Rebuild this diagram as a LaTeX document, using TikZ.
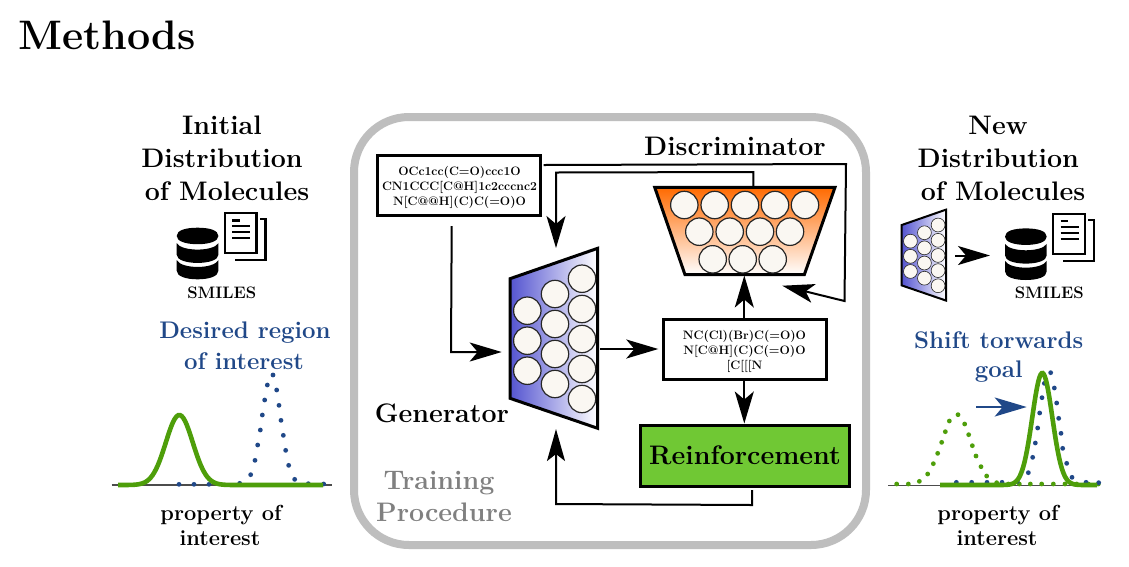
\documentclass[tikz,border=0pt]{standalone}
\usetikzlibrary{arrows.meta,shadings}
\definecolor{navy}{RGB}{32,72,136}
\definecolor{leaf}{RGB}{78,158,10}
\definecolor{reinf}{RGB}{112,200,52}
\definecolor{frame}{RGB}{190,190,190}
\definecolor{cellfill}{RGB}{250,247,242}
\definecolor{genblue}{RGB}{84,84,208}
\definecolor{discorange}{RGB}{255,106,0}
\newcommand{\fsz}[1]{\fontsize{#1}{#1}\selectfont\bfseries}
\tikzset{
 x=1pt,y=-1pt,
 big/.style={anchor=base,inner sep=0pt,font=\fsz{26.8}},
 sub/.style={anchor=base,inner sep=0pt,font=\fsz{21.8}},
 goal/.style={anchor=base,inner sep=0pt,text=navy,font=\fsz{24}},
 tiny/.style={anchor=base,inner sep=0pt,font=\fsz{16.6}},
 code/.style={anchor=base,inner sep=0pt,font=\fsz{12.2}},
 boxed/.style={draw=black,line width=3pt},
 conn/.style={draw=black,line width=2pt},
 head/.style={-{Stealth[length=32pt,width=19pt,inset=8pt]}},
 axisline/.style={draw=black!70,line width=1.1pt},
 curve/.style={draw=leaf,line width=4.6pt},
 cell/.style={draw=black!85,fill=cellfill},
}
\newcommand{\gencells}{%
 \foreach \cx/\cy in {527.3/310.7,527.3/340.7,527.3/370.7,555/294,555/324,555/354,555/384,582/278.7,582/309,582/339,582/369,582/399}
  {\path[cell] (\cx,\cy) circle[radius=13.7];}}
\newcommand{\genbody}{%
 \path[left color=genblue,right color=white,draw=black] (510,278.7) -- (597.7,248.3) -- (597.7,428.3) -- (510,398.3) -- cycle;}
\newcommand{\dbicon}{%
 \fill[black] (0,8.3) .. controls (0,2.5) and (9,0) .. (20.85,0) .. controls (32.7,0) and (41.7,2.5) .. (41.7,8.3) .. controls (41.7,13.5) and (32.7,16.5) .. (20.85,16.5) .. controls (9,16.5) and (0,13.5) .. (0,8.3) -- cycle;
 \fill[black] (0,15.5) .. controls (5,24) and (36.7,24) .. (41.7,15.5) -- (41.7,27) .. controls (41.7,32) and (32.7,35.2) .. (20.85,35.2) .. controls (9,35.2) and (0,32) .. (0,27) -- cycle;
 \fill[black] (0,32.5) .. controls (5,41.5) and (36.7,41.5) .. (41.7,32.5) -- (41.7,43) .. controls (41.7,48.5) and (32.7,51.6) .. (20.85,51.6) .. controls (9,51.6) and (0,48.5) .. (0,43) -- cycle;
 \draw[black,line width=2.3pt] (48.3,-14.4) rectangle (79.7,25.6);
 \draw[black,line width=2.3pt] (83.3,-8.4) -- (88.8,-8.4) -- (88.8,32.3) -- (58,32.3);
 \draw[black,line width=2.3pt] (55.5,-7.3) -- (63,-7.3) (55.5,-1.5) -- (73.5,-1.5) (55.5,4.5) -- (73.5,4.5) (55.5,10.5) -- (73.5,10.5);}
% dotted curves, positions in thirds of a pixel from an origin
\newcommand{\dotrow}[4]{%
 \foreach \a/\b in {#4} {\fill[#1] ({#2+\a/3},{#3+\b/3}) circle[radius=2.4];}}
\begin{document}
\begin{tikzpicture}
\useasboundingbox (0,0) rectangle (1129,566);
\fill[white] (0,0) rectangle (1129,566);
\node[anchor=base west,inner sep=0pt,font=\fsz{41.2}] (title) at (18,49) {Methods};
% frame
\draw[frame,line width=8pt,rounded corners=55pt] (354,117) rectangle (866,545);
% left column
\node[big] (l1) at (222,134) {Initial};
\node[big] (l2) at (222,167.5) {Distribution};
\node[big] (l3) at (227,200) {of Molecules};
\begin{scope}[shift={(176.7,227.7)}]\dbicon\end{scope}
\node[tiny] (lsm) at (221.7,298.5) {SMILES};
\node[goal] (lg1) at (245,338) {Desired region};
\node[goal] (lg2) at (244,369) {of interest};
\draw[axisline] (111.7,485) -- (331.7,485);
\dotrow{navy}{100}{310}{237/523,282/523,327/523,419/520,452/494,465/451,473/405,481/360,487/315,494/270,502/225,519/195,530/240,537/286,543/331,550/376,557/421,566/466,584/508,625/521,671/522}
\draw[curve] plot[domain=118:323,samples=120,smooth] (\x,{485-70*exp(-0.5*pow((\x-179.3)/13.5,2))});
\node[sub] (lp1) at (221,520) {property of};
\node[sub] (lp2) at (220,545) {interest};
% right column
\node[big] (r1) at (998,134) {New};
\node[big] (r2) at (998.3,167.5) {Distribution};
\node[big] (r3) at (1003,200) {of Molecules};
\begin{scope}[shift={(901.7,225)},scale=.505,shift={(-510,-278.7)}]
 \begin{scope}[line width=2pt]\genbody\end{scope}
 \begin{scope}[line width=.6pt]\gencells\end{scope}
\end{scope}
\coordinate (sa) at (955,255.5);
\coordinate (sb) at (990,255.5);
\draw[conn,head] (sa) -- (sb);
\begin{scope}[shift={(1005,228.4)}]\dbicon\end{scope}
\node[tiny] (rsm) at (1049.3,298) {SMILES};
\node[goal] (rg1) at (998.7,348.3) {Shift torwards};
\node[goal] (rg2) at (998.7,377.7) {goal};
\draw[axisline] (888,485.7) -- (1100,485.7);
\dotrow{leaf}{880}{320}{50/492,85/492,118/484,143/462,160/431,173/400,185/367,196/335,208/303,234/284,254/312,266/344,277/377,288/408,303/440,320/468,350/488,385/492,418/492,451/492,485/492,520/492,555/492,590/492,625/492,655/492}
\dotrow{navy}{880}{320}{229/487,275/487,321/487,366/487,412/484,445/458,458/412,466/369,473/324,479/279,486/233,493/190,512/158,523/204,530/249,536/295,543/340,548/385,560/430,576/472,618/487,656/488}
\draw[curve] plot[domain=940:1097,samples=160,smooth] (\x,{485-112*exp(-0.5*pow((\x-1042.3)/10,2))});
\coordinate (ga) at (976,407);
\coordinate (gb) at (1026.7,407);
\draw[navy,line width=2pt,-{Stealth[length=32pt,width=19pt,inset=8pt]}] (ga) -- (gb);
\node[sub] (rp1) at (998,520) {property of};
\node[sub] (rp2) at (997,545) {interest};
% generator
\coordinate (gtop) at (556,248);
\coordinate (gleft) at (501.7,352);
\coordinate (gright) at (600,349);
\coordinate (gbot) at (556,429);
\begin{scope}[line width=3pt]\genbody\end{scope}
\begin{scope}[line width=1.2pt]\gencells\end{scope}
\node[big] (gen) at (442,422) {Generator};
% discriminator
\path[top color=discorange,bottom color=white,draw=black,line width=3pt] (654.7,187.3) -- (835,187.3) -- (804.3,274.7) -- (685,274.7) -- cycle;
\coordinate (dtop) at (753.3,186.5);
\coordinate (dbot) at (744.3,275.5);
\coordinate (dside) at (782.3,285.7);
\foreach \cx/\cy in {684.3/205,714.7/205,745/205,775/205,805/205,699.3/231.7,729.7/231.7,760/231.7,790/231.7,712.7/259.3,742.7/259.3,772.7/259.3}
 {\path[cell,line width=1.2pt] (\cx,\cy) circle[radius=13.7];}
\node[big] (disc) at (735,155) {Discriminator};
% input box
\node[boxed,minimum width=163pt,minimum height=60pt,inner sep=0pt] (inbox) at (459.2,185.8) {};
\node[code] (i1) at (459.5,175) {OCc1cc(C=O)ccc1O};
\node[code] (i2) at (459.5,190) {CN1CCC[C@H]1c2cccnc2};
\node[code] (i3) at (459.5,205) {N[C@@H](C)C(=O)O};
% output box
\node[boxed,minimum width=163pt,minimum height=60pt,inner sep=0pt] (outbox) at (744.7,349.7) {};
\node[code] (o1) at (744.5,339.5) {NC(Cl)(Br)C(=O)O};
\node[code] (o2) at (744.5,354.5) {N[C@H](C)C(=O)O};
\node[code] (o3) at (744.5,369.5) {[C[[[N};
% reinforcement
\node[boxed,fill=reinf,minimum width=209pt,minimum height=61pt,inner sep=0pt,font=\fsz{26.8}] (reinf) at (745,455.5) {Reinforcement};
% training
\node[big,text=black!50] (t1) at (439,489.5) {Training};
\node[big,text=black!50] (t2) at (444,521.5) {Procedure};
% connectors
\coordinate (ia) at (543.5,165);
\coordinate (ib) at (451.7,226);
\draw[conn,head] (ib) -- (451,352) -- (gleft);
\draw[conn,head] (dtop) -- (753.3,172) -- (556,172.5) -- (gtop);
\draw[conn,head] (ia) -- (846,164) -- (844.5,301) -- (dside);
\draw[conn,head] (gright) -- (658.3,349);
\draw[conn,head] (outbox.north -| dbot) -- (dbot);
\draw[conn,head] (outbox.south -| dbot) -- (reinf.north -| dbot);
\coordinate (ra) at (752,490);
\draw[conn,-{Stealth[length=32pt,width=18pt,inset=7pt]}] (ra) -- (752,505) -- (556,504) -- (gbot);
\end{tikzpicture}
\end{document}
